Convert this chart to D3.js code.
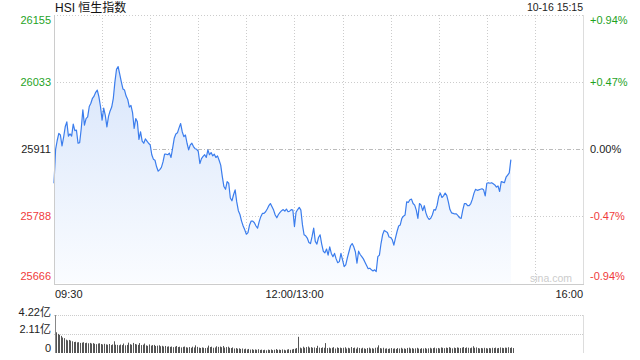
<!DOCTYPE html>
<html>
<head>
<meta charset="utf-8">
<script src="https://cdn.jsdelivr.net/npm/d3@7"></script>
<style>
  html, body { margin: 0; padding: 0; background: #fff; }
  svg text { font-family: Arial, "Liberation Sans", "Noto Sans CJK SC", sans-serif; }
</style>
</head>
<body>
<div id="chart"></div>
<script>
// HSI intraday, one value per trading minute from 09:30 (12:00 and 13:00 share minute 150)
const prices = [
  25848, 25910, 25926, 25939, 25936, 25916, 25932, 25951, 25960, 25934,
  25938, 25934, 25956, 25944, 25945, 25921, 25922, 25948, 25982, 25954,
  25966, 25969, 25988, 25994, 26003, 26007, 26014, 26018, 26006, 25988,
  25963, 25985, 25972, 25951, 25970, 25980, 25987, 26003, 26033, 26056,
  26061, 26047, 26033, 26020, 26018, 26007, 26001, 25987, 25990, 25977,
  25948, 25966, 25960, 25928, 25942, 25925, 25921, 25929, 25925, 25921,
  25918, 25900, 25892, 25890, 25878, 25870, 25873, 25877, 25887, 25901,
  25901, 25900, 25903, 25895, 25912, 25930, 25938, 25940, 25949, 25957,
  25942, 25933, 25936, 25921, 25909, 25918, 25921, 25915, 25911, 25910,
  25906, 25884, 25893, 25897, 25900, 25895, 25909, 25900, 25904, 25898,
  25901, 25895, 25898, 25890, 25881, 25860, 25842, 25837, 25851, 25848,
  25821, 25816, 25827, 25836, 25814, 25798, 25791, 25779, 25770, 25763,
  25755, 25758, 25772, 25779, 25779, 25776, 25770, 25766, 25778, 25787,
  25793, 25793, 25796, 25801, 25807, 25811, 25805, 25799, 25790, 25785,
  25791, 25795, 25798, 25800, 25797, 25801, 25796, 25797, 25800, 25799,
  25769, 25795, 25800, 25804, 25799, 25772, 25754, 25752, 25748, 25740,
  25738, 25751, 25766, 25742, 25737, 25749, 25754, 25737, 25724, 25721,
  25728, 25717, 25732, 25720, 25714, 25720, 25710, 25703, 25705, 25720,
  25708, 25696, 25699, 25712, 25723, 25734, 25738, 25732, 25723, 25702,
  25724, 25718, 25714, 25710, 25704, 25698, 25692, 25693, 25690, 25688,
  25690, 25687, 25714, 25717, 25738, 25754, 25762, 25760, 25758, 25750,
  25749, 25745, 25735, 25748, 25760, 25770, 25772, 25784, 25788, 25790,
  25814, 25813, 25818, 25819, 25811, 25808, 25799, 25784, 25811, 25808,
  25798, 25807, 25794, 25786, 25782, 25784, 25790, 25800, 25799, 25808,
  25824, 25830, 25822, 25825, 25830, 25826, 25814, 25800, 25794, 25793,
  25792, 25792, 25789, 25785, 25784, 25799, 25811, 25811, 25807, 25807,
  25811, 25819, 25830, 25837, 25835, 25836, 25837, 25838, 25836, 25825,
  25848, 25849, 25848, 25849, 25847, 25845, 25841, 25843, 25833, 25851,
  25850, 25849, 25859, 25863, 25867, 25891
];

// turnover per minute, in 亿
const volumes = [
  2.30, 2.12, 2.02, 1.90, 1.72, 1.65, 1.48, 1.40, 1.45, 1.38,
  1.30, 1.22, 1.25, 1.18, 1.20, 1.12, 1.15, 1.20, 1.10, 1.14,
  1.08, 1.12, 1.05, 1.10, 1.02, 0.98, 1.05, 1.08, 1.00, 0.95,
  1.02, 0.96, 0.92, 1.00, 0.88, 0.95, 1.30, 0.92, 0.90, 0.86,
  0.94, 0.88, 1.05, 0.85, 0.90, 1.15, 0.98, 0.92, 1.12, 1.00,
  0.95, 0.90, 1.10, 0.88, 0.92, 1.05, 0.85, 0.80, 0.95, 0.82,
  0.88, 0.90, 0.78, 0.82, 0.86, 0.75, 0.80, 0.72, 0.78, 0.70,
  0.74, 0.68, 0.72, 0.65, 0.70, 0.78, 0.66, 0.70, 0.62, 0.68,
  0.72, 0.64, 0.60, 0.66, 0.58, 0.70, 0.62, 0.85, 0.68, 0.60,
  0.56, 0.62, 0.58, 0.55, 0.60, 0.82, 0.66, 0.70, 0.58, 0.62,
  0.75, 0.68, 0.72, 0.65, 0.78, 0.60, 0.66, 0.70, 0.58, 0.55,
  0.62, 0.50, 0.55, 0.48, 0.52, 0.45, 0.50, 0.42, 0.48, 0.40,
  0.45, 0.38, 0.42, 0.35, 0.40, 0.36, 0.42, 0.34, 0.38, 0.32,
  0.36, 0.30, 0.38, 0.34, 0.40, 0.32, 0.36, 0.44, 0.35, 0.38,
  0.34, 0.40, 0.36, 0.30, 0.38, 0.42, 0.35, 0.40, 0.45, 0.48,
  0.55, 1.80, 0.60, 0.52, 0.70, 0.58, 0.66, 0.72, 0.60, 0.65,
  0.58, 0.62, 0.55, 0.80, 0.60, 0.56, 0.62, 0.58, 1.10, 0.55,
  0.60, 0.52, 0.58, 0.65, 0.50, 0.62, 0.56, 0.60, 0.54, 0.58,
  0.64, 0.50, 0.58, 0.52, 0.66, 0.55, 0.60, 0.48, 0.62, 0.56,
  0.50, 0.58, 0.52, 0.46, 0.55, 0.60, 0.50, 0.54, 0.48, 0.58,
  0.62, 0.85, 0.55, 0.50, 0.58, 0.48, 0.52, 0.46, 0.50, 0.55,
  0.48, 0.52, 0.45, 0.55, 0.50, 0.58, 0.48, 0.52, 0.46, 0.56,
  0.60, 0.50, 0.55, 0.48, 0.52, 0.58, 0.50, 0.46, 0.54, 0.50,
  0.56, 0.48, 0.52, 0.58, 0.50, 0.55, 0.60, 0.52, 0.56, 0.50,
  0.62, 0.58, 0.54, 0.60, 0.56, 0.65, 0.58, 0.52, 0.60, 0.55,
  0.62, 0.58, 0.55, 0.60, 0.66, 0.56, 0.62, 0.58, 0.54, 0.60,
  0.75, 0.58, 0.62, 0.55, 0.50, 0.56, 0.52, 0.58, 0.54, 0.50,
  0.56, 0.52, 0.58, 0.55, 0.60, 0.52, 0.56, 0.62, 0.58, 0.55,
  0.60, 0.58, 0.64, 0.56, 0.62, 0.55
];

const priceTicks = [26155, 26033, 25911, 25788, 25666];
const pctTicks = ["+0.94%", "+0.47%", "0.00%", "-0.47%", "-0.94%"];
const volumeTicks = [4.22, 2.11, 0];
const volumeTickLabels = ["4.22亿", "2.11亿", "0"];
const timeLabels = ["09:30", "12:00/13:00", "16:00"];
const timeLabelMinutes = [0, 150, 330];
const sessionMinutes = 330;
const titleText = "HSI 恒生指数";
const stampText = "10-16 15:15";

const W = 640, H = 360;
const plot = {left: 54, right: 583, top: 15, bottom: 283};
const vol = {top: 315, bottom: 353};
const green = "#1fa31f", red = "#f03b3b", dark = "#222";
const tickColor = i => i < 2 ? green : (i === 2 ? dark : red);

const svg = d3.select('#chart').append('svg')
    .attr('width', W)
    .attr('height', H);

const x = d3.scaleLinear()
    .domain([0, sessionMinutes])
    .range([plot.left, plot.right]);

const y = d3.scaleLinear()
    .domain([priceTicks[4], priceTicks[0]])
    .range([plot.bottom, plot.top]);

const vy = d3.scaleLinear()
    .domain([0, volumeTicks[0]])
    .range([vol.bottom, vol.top]);

// gradient under the line
const grad = svg.append('defs').append('linearGradient')
    .attr('id', 'fillGrad')
    .attr('gradientUnits', 'userSpaceOnUse')
    .attr('x1', 0).attr('x2', 0)
    .attr('y1', y(d3.max(prices))).attr('y2', plot.bottom);
grad.append('stop').attr('offset', 0).attr('stop-color', '#d9e6fb');
grad.append('stop').attr('offset', 1).attr('stop-color', '#fafcff');

// vertical grid every 30 minutes
const gridMinutes = d3.range(30, sessionMinutes, 30);
svg.append('g').selectAll('line')
    .data(gridMinutes)
  .join('line')
    .attr('x1', d => Math.round(x(d)) + 0.5)
    .attr('x2', d => Math.round(x(d)) + 0.5)
    .attr('y1', plot.top)
    .attr('y2', plot.bottom + 1)
    .attr('stroke', '#ccc')
    .attr('stroke-dasharray', '1,2');

// horizontal grid
svg.append('g').selectAll('line')
    .data(priceTicks.slice(0, 4))
  .join('line')
    .attr('x1', plot.left)
    .attr('x2', plot.right)
    .attr('y1', d => Math.round(y(d)) + 0.5)
    .attr('y2', d => Math.round(y(d)) + 0.5)
    .attr('stroke', (d, i) => i === 2 ? '#bbb' : '#ccc')
    .attr('stroke-dasharray', (d, i) => i === 2 ? '4,2,1,2' : '1,2');

// area + line
const area = d3.area()
    .x((d, i) => x(i))
    .y0(plot.bottom)
    .y1(d => y(d));
const line = d3.line()
    .x((d, i) => x(i))
    .y(d => y(d));

svg.append('path')
    .datum(prices)
    .attr('d', area)
    .attr('fill', 'url(#fillGrad)');

svg.append('path')
    .datum(prices)
    .attr('d', line)
    .attr('fill', 'none')
    .attr('stroke', '#3b7ded')
    .attr('stroke-width', 1.2)
    .attr('stroke-linejoin', 'round');

// frame
const frame = svg.append('g').attr('stroke', '#ccc').attr('fill', 'none');
frame.append('line').attr('x1', plot.left + 0.5).attr('x2', plot.left + 0.5)
    .attr('y1', plot.top).attr('y2', plot.bottom + 1);
frame.append('line').attr('x1', plot.left).attr('x2', plot.right + 1)
    .attr('y1', plot.bottom + 1.5).attr('y2', plot.bottom + 1.5);
frame.append('line').attr('x1', plot.right + 0.5).attr('x2', plot.right + 0.5)
    .attr('y1', plot.top).attr('y2', plot.bottom + 1).attr('stroke', '#ddd');

// left price labels
svg.append('g').selectAll('text')
    .data(priceTicks)
  .join('text')
    .attr('x', plot.left - 3)
    .attr('y', (d, i) => i === 0 ? y(d) + 9 : (i === 4 ? y(d) - 3 : y(d) + 4))
    .attr('text-anchor', 'end')
    .attr('font-size', 11)
    .attr('fill', (d, i) => tickColor(i))
    .text(d => d);

// right percent labels
svg.append('g').selectAll('text')
    .data(pctTicks)
  .join('text')
    .attr('x', plot.right + 7)
    .attr('y', (d, i) => i === 0 ? y(priceTicks[i]) + 9 : (i === 4 ? y(priceTicks[i]) - 3 : y(priceTicks[i]) + 4))
    .attr('font-size', 11)
    .attr('fill', (d, i) => tickColor(i))
    .text(d => d);

// title + timestamp
svg.append('text')
    .attr('x', plot.left + 1)
    .attr('y', 12)
    .attr('font-size', 12)
    .attr('fill', '#111')
    .text(titleText);
svg.append('text')
    .attr('x', plot.right)
    .attr('y', 11)
    .attr('text-anchor', 'end')
    .attr('font-size', 10.5)
    .attr('fill', '#222')
    .text(stampText);

// watermark
svg.append('text')
    .attr('x', plot.right - 11)
    .attr('y', plot.bottom - 1)
    .attr('text-anchor', 'end')
    .attr('font-size', 10.5)
    .attr('fill', '#ccc')
    .text('sina.com');

// time labels
svg.append('g').selectAll('text')
    .data(timeLabels)
  .join('text')
    .attr('x', (d, i) => x(timeLabelMinutes[i]) + (i === 0 ? 1 : 0))
    .attr('y', 298)
    .attr('text-anchor', (d, i) => i === 0 ? 'start' : (i === 1 ? 'middle' : 'end'))
    .attr('font-size', 11)
    .attr('fill', '#222')
    .text(d => d);

// volume panel
svg.append('g').selectAll('line')
    .data(volumeTicks.slice(0, 2))
  .join('line')
    .attr('x1', plot.left)
    .attr('x2', plot.right)
    .attr('y1', d => Math.round(vy(d)) + 0.5)
    .attr('y2', d => Math.round(vy(d)) + 0.5)
    .attr('stroke', '#ccc')
    .attr('stroke-dasharray', '1,1');

svg.append('line')
    .attr('x1', plot.left + 1.5).attr('x2', plot.left + 1.5)
    .attr('y1', vol.top).attr('y2', vol.bottom)
    .attr('stroke', '#888');
svg.append('line')
    .attr('x1', plot.right + 0.5).attr('x2', plot.right + 0.5)
    .attr('y1', vol.top).attr('y2', vol.bottom)
    .attr('stroke', '#ddd');

svg.append('g').selectAll('rect')
    .data(volumes)
  .join('rect')
    .attr('x', (d, i) => Math.round(x(i)) + 2)
    .attr('width', 1)
    .attr('y', d => vy(d))
    .attr('height', d => vol.bottom - vy(d))
    .attr('fill', '#555');

svg.append('g').selectAll('text')
    .data(volumeTickLabels)
  .join('text')
    .attr('x', plot.left - 3)
    .attr('y', (d, i) => i === 0 ? vy(volumeTicks[i]) + 1 : (i === 1 ? vy(volumeTicks[i]) - 1 : vy(volumeTicks[i]) - 1))
    .attr('text-anchor', 'end')
    .attr('font-size', 11)
    .attr('fill', '#222')
    .text(d => d);
</script>
</body>
</html>
